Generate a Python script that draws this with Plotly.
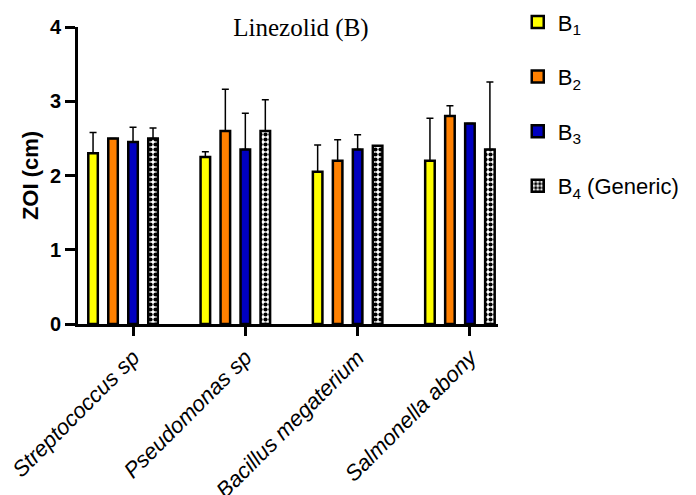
import plotly.graph_objects as go

categories = ["Streptococcus sp", "Pseudomonas sp", "Bacillus megaterium", "Salmonella abony"]
series_names = ["B<sub>1</sub>", "B<sub>2</sub>", "B<sub>3</sub>", "B<sub>4</sub> (Generic)"]
b1 = [2.30, 2.25, 2.05, 2.20]
b2 = [2.50, 2.60, 2.20, 2.80]
b3 = [2.45, 2.35, 2.35, 2.70]
b4 = [2.50, 2.60, 2.40, 2.35]
b1_err = [0.28, 0.07, 0.36, 0.57]
b2_err = [0.0, 0.56, 0.28, 0.14]
b3_err = [0.20, 0.49, 0.20, 0.0]
b4_err = [0.14, 0.42, 0.0, 0.91]
y_ticks = [0, 1, 2, 3, 4]

values = [b1, b2, b3, b4]
errors = [b1_err, b2_err, b3_err, b4_err]
colors = ["#FFFF00", "#FF8000", "#0000C0", "#FFFFFF"]

bar_w = 0.085
centers = [-0.356, -0.178, 0.0, 0.178]

fig = go.Figure()
for i in range(4):
    marker = dict(color=colors[i], line=dict(color="black", width=2.5))
    if i == 3:
        marker["pattern"] = dict(shape=".", fgcolor="black", bgcolor="white",
                                 size=5, solidity=0.55, fillmode="replace")
    fig.add_trace(go.Bar(
        x=categories, y=values[i], name=series_names[i],
        width=bar_w, offset=centers[i] - bar_w / 2,
        marker=marker,
        legendgroup=str(i),
        error_y=dict(type="data", symmetric=False, array=errors[i],
                     arrayminus=[0] * 4, color="black", thickness=1.5, width=3.5),
    ))

fig.update_layout(
    width=696, height=495,
    barmode="overlay",
    plot_bgcolor="white", paper_bgcolor="white",
    margin=dict(l=70, r=206, t=19, b=179.4, autoexpand=False),
    font=dict(family="Arial, Liberation Sans, sans-serif", color="black"),
    title=dict(text="Linezolid (B)", x=293 / 696, xref="container", xanchor="center",
               y=1 - 19 / 495, yref="container", yanchor="middle",
               font=dict(family="Times New Roman, Liberation Serif, serif", size=25, color="black")),
    legend=dict(x=1.047, xanchor="left", y=1.087, yanchor="top",
                font=dict(size=22, color="black"), tracegroupgap=23,
                bgcolor="rgba(0,0,0,0)"),
    xaxis=dict(type="category", range=[-0.49, 3.25], showline=True, linecolor="black",
               linewidth=3, ticks="outside", ticklen=9, tickwidth=3, tickcolor="black",
               tickangle=-45, tickfont=dict(size=22, style="italic"), automargin=False,
               showgrid=False, zeroline=False),
    yaxis=dict(range=[0, 4], tickvals=y_ticks, showline=True, linecolor="black", linewidth=3,
               ticks="outside", ticklen=10, tickwidth=3, tickcolor="black",
               tickfont=dict(size=20, weight="bold"), showgrid=False, zeroline=False,
               automargin=False,
               title=dict(text="<b>ZOI (cm)</b>", font=dict(size=22), standoff=6)),
)

fig.write_html("out.html")
